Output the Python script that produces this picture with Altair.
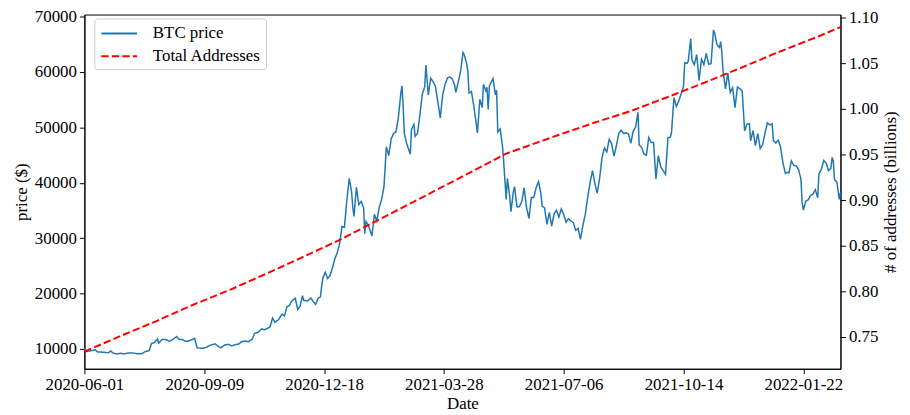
import altair as alt
import pandas as pd

FONT = "Liberation Serif"

# ---------------- data ----------------
btc_dates = [
    "2020-06-01", "2020-06-02", "2020-06-05", "2020-06-08", "2020-06-10", "2020-06-12", "2020-06-15",
    "2020-06-18", "2020-06-21", "2020-06-23", "2020-06-25", "2020-06-28", "2020-07-01", "2020-07-04",
    "2020-07-07", "2020-07-10", "2020-07-13", "2020-07-16", "2020-07-19", "2020-07-22", "2020-07-25",
    "2020-07-27", "2020-07-29", "2020-08-01", "2020-08-02", "2020-08-05", "2020-08-08", "2020-08-11",
    "2020-08-14", "2020-08-17", "2020-08-19", "2020-08-22", "2020-08-25", "2020-08-28", "2020-09-01",
    "2020-09-03", "2020-09-05", "2020-09-08", "2020-09-11", "2020-09-14", "2020-09-18", "2020-09-21",
    "2020-09-23", "2020-09-26", "2020-09-29", "2020-10-02", "2020-10-05", "2020-10-08", "2020-10-10",
    "2020-10-13", "2020-10-16", "2020-10-19", "2020-10-21", "2020-10-24", "2020-10-27", "2020-10-29",
    "2020-11-01", "2020-11-03", "2020-11-05", "2020-11-07", "2020-11-10", "2020-11-13", "2020-11-15",
    "2020-11-17", "2020-11-19", "2020-11-21", "2020-11-24", "2020-11-26", "2020-11-28", "2020-11-30",
    "2020-12-01", "2020-12-04", "2020-12-07", "2020-12-09", "2020-12-11", "2020-12-13", "2020-12-15",
    "2020-12-16", "2020-12-17", "2020-12-19", "2020-12-21", "2020-12-23", "2020-12-25", "2020-12-27",
    "2020-12-29", "2020-12-31", "2021-01-02", "2021-01-04", "2021-01-06", "2021-01-08", "2021-01-10",
    "2021-01-11", "2021-01-12", "2021-01-14", "2021-01-16", "2021-01-18", "2021-01-20", "2021-01-21",
    "2021-01-22", "2021-01-24", "2021-01-27", "2021-01-29", "2021-01-31", "2021-02-02", "2021-02-04",
    "2021-02-06", "2021-02-08", "2021-02-10", "2021-02-12", "2021-02-14", "2021-02-16", "2021-02-18",
    "2021-02-20", "2021-02-21", "2021-02-22", "2021-02-23", "2021-02-25", "2021-02-28", "2021-03-01",
    "2021-03-03", "2021-03-04", "2021-03-06", "2021-03-08", "2021-03-10", "2021-03-12", "2021-03-13",
    "2021-03-15", "2021-03-17", "2021-03-19", "2021-03-21", "2021-03-23", "2021-03-25", "2021-03-27",
    "2021-03-29", "2021-03-31", "2021-04-02", "2021-04-04", "2021-04-06", "2021-04-07", "2021-04-09",
    "2021-04-11", "2021-04-13", "2021-04-14", "2021-04-16", "2021-04-17", "2021-04-18", "2021-04-20",
    "2021-04-22", "2021-04-25", "2021-04-27", "2021-04-29", "2021-04-30", "2021-05-02", "2021-05-03",
    "2021-05-04", "2021-05-05", "2021-05-08", "2021-05-10", "2021-05-11", "2021-05-12", "2021-05-14",
    "2021-05-16", "2021-05-17", "2021-05-19", "2021-05-20", "2021-05-22", "2021-05-23", "2021-05-25",
    "2021-05-26", "2021-05-28", "2021-05-30", "2021-06-01", "2021-06-03", "2021-06-05", "2021-06-07",
    "2021-06-09", "2021-06-11", "2021-06-13", "2021-06-15", "2021-06-17", "2021-06-18", "2021-06-20",
    "2021-06-22", "2021-06-24", "2021-06-26", "2021-06-28", "2021-06-30", "2021-07-02", "2021-07-04",
    "2021-07-06", "2021-07-08", "2021-07-10", "2021-07-12", "2021-07-14", "2021-07-16", "2021-07-18",
    "2021-07-20", "2021-07-22", "2021-07-24", "2021-07-26", "2021-07-28", "2021-07-30", "2021-08-01",
    "2021-08-03", "2021-08-05", "2021-08-07", "2021-08-09", "2021-08-11", "2021-08-13", "2021-08-15",
    "2021-08-17", "2021-08-19", "2021-08-21", "2021-08-23", "2021-08-25", "2021-08-27", "2021-08-29",
    "2021-08-31", "2021-09-02", "2021-09-04", "2021-09-06", "2021-09-07", "2021-09-09", "2021-09-11",
    "2021-09-13", "2021-09-15", "2021-09-17", "2021-09-19", "2021-09-21", "2021-09-23", "2021-09-25",
    "2021-09-27", "2021-09-29", "2021-10-01", "2021-10-03", "2021-10-04", "2021-10-06", "2021-10-08",
    "2021-10-10", "2021-10-12", "2021-10-14", "2021-10-15", "2021-10-17", "2021-10-18", "2021-10-20",
    "2021-10-21", "2021-10-23", "2021-10-25", "2021-10-27", "2021-10-29", "2021-10-31", "2021-11-02",
    "2021-11-04", "2021-11-06", "2021-11-08", "2021-11-09", "2021-11-11", "2021-11-13", "2021-11-14",
    "2021-11-15", "2021-11-16", "2021-11-18", "2021-11-20", "2021-11-22", "2021-11-24", "2021-11-26",
    "2021-11-28", "2021-11-30", "2021-12-02", "2021-12-04", "2021-12-06", "2021-12-08", "2021-12-09",
    "2021-12-11", "2021-12-13", "2021-12-15", "2021-12-17", "2021-12-19", "2021-12-21", "2021-12-23",
    "2021-12-25", "2021-12-27", "2021-12-28", "2021-12-30", "2022-01-01", "2022-01-03", "2022-01-05",
    "2022-01-07", "2022-01-09", "2022-01-10", "2022-01-12", "2022-01-14", "2022-01-16", "2022-01-18",
    "2022-01-20", "2022-01-21", "2022-01-22", "2022-01-24", "2022-01-26", "2022-01-28", "2022-01-30",
    "2022-02-01", "2022-02-03", "2022-02-04", "2022-02-06", "2022-02-08", "2022-02-10", "2022-02-12",
    "2022-02-14", "2022-02-15", "2022-02-16", "2022-02-17", "2022-02-19", "2022-02-21", "2022-02-22",
]
btc_prices = [
    10200, 9520, 9650, 9750, 9880, 9470, 9450,
    9400, 9330, 9640, 9260, 9120, 9230, 9130,
    9250, 9300, 9240, 9130, 9170, 9540, 9700,
    11000, 11110, 11800, 11070, 11750, 11700, 11400,
    11780, 12250, 11750, 11680, 11370, 11540, 11920,
    10250, 10170, 10130, 10340, 10680, 10930, 10420,
    10240, 10730, 10840, 10570, 10790, 10920, 11300,
    11430, 11320, 11760, 12820, 13030, 13650, 13460,
    13740, 14030, 15590, 14830, 15310, 16320, 15960,
    17650, 17820, 18680, 19160, 17150, 17720, 19630,
    18800, 18660, 19200, 18540, 18050, 19150, 19430,
    21310, 22800, 23850, 22720, 23240, 24660, 26270,
    27360, 29000, 32130, 31970, 36770, 40800, 38360,
    35570, 33920, 39190, 36070, 36630, 35510, 30820,
    33010, 32290, 30430, 34320, 33110, 35510, 36950,
    39270, 46480, 44920, 47910, 48880, 49200, 51680,
    56000, 57490, 54090, 48890, 47060, 45140, 49630,
    50540, 48380, 48910, 52250, 55960, 57330, 61240,
    55860, 58870, 58240, 57360, 54530, 51700, 55880,
    57750, 58920, 59090, 58760, 57600, 56310, 58140,
    60230, 63500, 63110, 61530, 60030, 56220, 56470,
    53830, 49000, 55040, 53560, 57750, 56630, 57210,
    53240, 57470, 58800, 55860, 56700, 49150, 49720,
    46430, 43540, 37000, 40780, 37540, 34770, 38400,
    39290, 35680, 35680, 36580, 39100, 35520, 33560,
    37340, 37340, 39100, 40220, 38050, 35790, 35490,
    32500, 34660, 32190, 34430, 35040, 33820, 35290,
    34240, 32880, 33510, 33100, 32820, 31420, 31780,
    29790, 32290, 34290, 37340, 40010, 42210, 39880,
    38150, 40870, 44560, 46280, 45590, 47830, 47050,
    44800, 46720, 48900, 49480, 48890, 49010, 48830,
    47130, 49330, 50040, 52700, 46810, 46400, 45170,
    44960, 48150, 47260, 47260, 40700, 44890, 42840,
    42200, 41520, 48110, 48230, 49110, 55360, 53800,
    54720, 56040, 57400, 61670, 61530, 62010, 66000,
    62210, 61310, 63130, 58480, 62280, 61320, 63330,
    61400, 61500, 67570, 66970, 64860, 64400, 65470,
    63560, 60160, 56940, 59770, 56310, 57150, 53570,
    57270, 57000, 56500, 49370, 50580, 50640, 47590,
    49400, 46710, 48880, 46200, 46880, 48940, 50820,
    50430, 50640, 47590, 47190, 47690, 46460, 43570,
    41690, 41900, 41820, 43950, 43100, 43090, 42380,
    40680, 36460, 35070, 36680, 36900, 37710, 37920,
    38740, 37300, 41570, 42410, 44040, 43570, 42200,
    42590, 44580, 43960, 40540, 40120, 37010, 38230,
]

addr_dates = [
    "2020-06-01", "2020-07-01", "2020-08-01", "2020-09-01", "2020-10-01", "2020-11-01",
    "2020-12-01", "2021-01-01", "2021-02-01", "2021-03-01", "2021-04-01", "2021-05-01",
    "2021-05-19", "2021-06-01", "2021-07-01", "2021-08-01", "2021-09-01", "2021-10-01",
    "2021-11-01", "2021-12-01", "2022-01-01", "2022-02-01", "2022-02-22",
]
addr_values = [
    0.734, 0.751, 0.768, 0.786, 0.802, 0.820,
    0.838, 0.857, 0.878, 0.897, 0.918, 0.9385,
    0.951, 0.957, 0.971, 0.985, 0.998, 1.013,
    1.029, 1.045, 1.062, 1.078, 1.0895,
]

x_tick_labels = ["2020-06-01", "2020-09-09", "2020-12-18", "2021-03-28",
                 "2021-07-06", "2021-10-14", "2022-01-22"]
x_range = ["2020-06-01", "2022-02-22"]
price_ticks = [10000, 20000, 30000, 40000, 50000, 60000, 70000]
price_range = [6440, 70357]
addr_ticks = [0.75, 0.80, 0.85, 0.90, 0.95, 1.00, 1.05, 1.10]
addr_range = [0.7152, 1.1033]
series_names = ["BTC price", "Total Addresses"]
series_colors = ["#1f77b4", "#ff0000"]
series_dashes = [[1, 0], [7.4, 3.2]]

# ---------------- build ----------------
btc = pd.DataFrame({"date": btc_dates, "price": btc_prices})
btc["series"] = series_names[0]
addr = pd.DataFrame({"date": addr_dates, "addresses": addr_values})
addr["series"] = series_names[1]


def ms(d):
    return int(pd.Timestamp(d, tz="UTC").value // 10**6)


x_enc = alt.X(
    "date:T",
    scale=alt.Scale(type="utc", domain=[ms(x_range[0]), ms(x_range[1])], nice=False),
    axis=alt.Axis(values=[ms(d) for d in x_tick_labels], format="%Y-%m-%d",
                  title="Date", labelFlush=False, labelOverlap=False, titlePadding=3),
)

legend = alt.Legend(
    title=None, orient="none", legendX=10, legendY=4,
    symbolType="M-2,0L2,0", symbolSize=324, symbolStrokeWidth=2,
    labelFont=FONT, labelFontSize=17, labelColor="black",
    fillColor="white", strokeColor="#cccccc", cornerRadius=3,
    padding=5, rowPadding=5, symbolOffset=10, labelOffset=24,
)
color_enc = alt.Color("series:N", scale=alt.Scale(domain=series_names, range=series_colors), legend=legend)
dash_enc = alt.StrokeDash("series:N", scale=alt.Scale(domain=series_names, range=series_dashes), legend=legend)

price_line = alt.Chart(btc).mark_line(strokeWidth=1.5).encode(
    x=x_enc,
    y=alt.Y("price:Q", scale=alt.Scale(domain=price_range, nice=False, zero=False),
            axis=alt.Axis(orient="left", values=price_ticks, format="d", title="price ($)")),
    color=color_enc,
    strokeDash=dash_enc,
)

addr_line = alt.Chart(addr).mark_line(strokeWidth=2).encode(
    x=x_enc,
    y=alt.Y("addresses:Q", scale=alt.Scale(domain=addr_range, nice=False, zero=False),
            axis=alt.Axis(orient="right", values=addr_ticks, format=".2f",
                          title="# of addresses (billions)", titleAngle=270, titleBaseline="top",
                          titlePadding=5)),
    color=color_enc,
    strokeDash=dash_enc,
)

chart = (
    alt.layer(price_line, addr_line)
    .resolve_scale(y="independent")
    .properties(
        width=762, height=357,
        autosize=alt.AutoSizeParams(type="none"),
        padding={"left": 77, "top": 5, "right": 62, "bottom": 43},
        background="white",
    )
    .configure_axis(
        labelFont=FONT, labelFontSize=17, labelColor="black",
        titleFont=FONT, titleFontSize=17, titleColor="black", titleFontWeight="normal",
        domainColor="black", domainWidth=1, tickColor="black", tickWidth=1, tickSize=5,
        labelPadding=3, grid=False,
    )
    .configure_view(stroke="black", strokeWidth=1)
)

chart.save("out.html", embed_options={"renderer": "svg", "actions": False})
